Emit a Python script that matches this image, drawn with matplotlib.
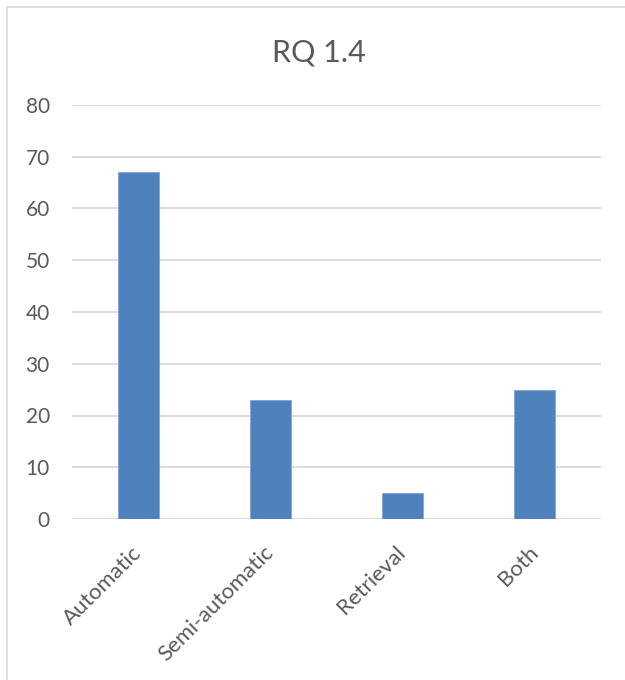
import matplotlib
matplotlib.use("Agg")
import matplotlib.pyplot as plt
from matplotlib.patches import Rectangle

categories = ["Automatic", "Semi-automatic", "Retrieval", "Both"]
values = [67, 23, 5, 25]
yticks = [0, 10, 20, 30, 40, 50, 60, 70, 80]
title = "RQ 1.4"

plt.rcParams['font.family'] = ['Lato', 'DejaVu Sans']
text_color = "#595959"
grid_color = "#D9D9D9"
bar_color = "#4F81BD"

fig = plt.figure(figsize=(6.25, 6.8), dpi=100)
fig.patch.set_facecolor("white")
# chart border
fig.patches.append(Rectangle((7/625, -0.01), 1.0, 1 - 7/680 + 0.01, transform=fig.transFigure,
                             fill=False, edgecolor=grid_color, linewidth=1.2))

ax = fig.add_axes([72/625, 1 - 519/680, (601 - 72)/625, (519 - 105)/680])
x = list(range(len(categories)))
ax.bar(x, values, width=0.31, color=bar_color, edgecolor="#7FA7D9", linewidth=0.6, zorder=3)
ax.set_xlim(-0.5, len(categories) - 0.5)
ax.set_ylim(0, 80)
ax.set_yticks(yticks)
ax.set_yticklabels([str(t) for t in yticks], fontsize=15, color=text_color)
ax.set_xticks(x)
ax.set_xticklabels(categories, rotation=45, ha="right", va="center", rotation_mode="anchor",
                   fontsize=16, color=text_color)
ax.tick_params(axis="both", length=0)
ax.tick_params(axis="y", pad=16)
ax.tick_params(axis="x", pad=22)
ax.yaxis.grid(True, color=grid_color, linewidth=1.3, zorder=0)
for s in ax.spines.values():
    s.set_visible(False)
ax.set_facecolor("none")

fig.text(319/625, 1 - 52/680, title, ha="center", va="center", fontsize=22, color=text_color)

fig.savefig("out.png", dpi=100, facecolor="white")
